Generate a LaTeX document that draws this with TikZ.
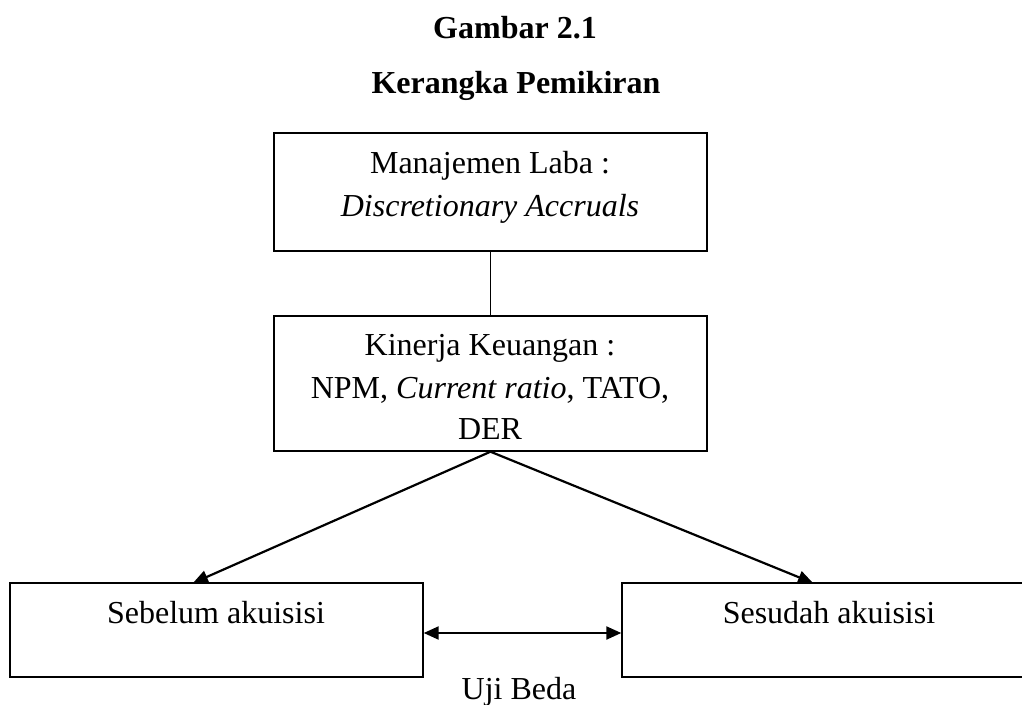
\documentclass[tikz,border=0pt]{standalone}
\usepackage{fontspec}
\setmainfont{Liberation Serif}
\usetikzlibrary{arrows.meta}
\begin{document}
\begin{tikzpicture}[x=1pt,y=-1pt,
  box/.style={draw, line width=1.4pt, inner sep=0pt},
  txt/.style={anchor=base, inner sep=0pt, font=\fontsize{32}{40}\selectfont},
  ttl/.style={anchor=base, inner sep=0pt, font=\fontsize{32}{40}\selectfont\bfseries},
  arr/.style={line width=2.2pt, -{Triangle[length=15pt,width=13pt]}},
  darr/.style={line width=2.2pt, {Triangle[length=15pt,width=13pt]}-{Triangle[length=15pt,width=13pt]}},
]
\useasboundingbox (0,0) rectangle (1022,704);
% boxes
\node[box, minimum width=433pt, minimum height=118pt] (b1) at (490.5,192) {};
\node[box, minimum width=433pt, minimum height=135pt] (b2) at (490.5,383.5) {};
\node[box, minimum width=413pt, minimum height=94pt] (b3) at (216.5,630) {};
\node[box, minimum width=414pt, minimum height=94pt] (b4) at (829,630) {};
% titles
\node[ttl] (t1) at (515,38) {Gambar 2.1};
\node[ttl] (t2) at (516,93) {Kerangka Pemikiran};
% texts
\node[txt] (m1) at (490,173) {Manajemen Laba :};
\node[txt] (m2) at (490,216) {\textit{Discretionary Accruals}};
\node[txt] (k1) at (490,355) {Kinerja Keuangan :};
\node[txt] (k2) at (490,398) {NPM, \textit{Current ratio}, TATO,};
\node[txt] (k3) at (490,439) {DER};
\node[txt] (s1) at (216,623) {Sebelum akuisisi};
\node[txt] (s2) at (829,623) {Sesudah akuisisi};
\node[txt] (u) at (519,699) {Uji Beda};
% connectors
\coordinate (p1) at (193,583);
\coordinate (p2) at (813,583);
\draw[line width=1.4pt] (b1.south) -- (b2.north);
\draw[arr] (b2.south) -- (p1);
\draw[arr] (b2.south) -- (p2);
\draw[darr] ([yshift=-3pt]b3.east) -- ([yshift=-3pt]b4.west);
\end{tikzpicture}
\end{document}
